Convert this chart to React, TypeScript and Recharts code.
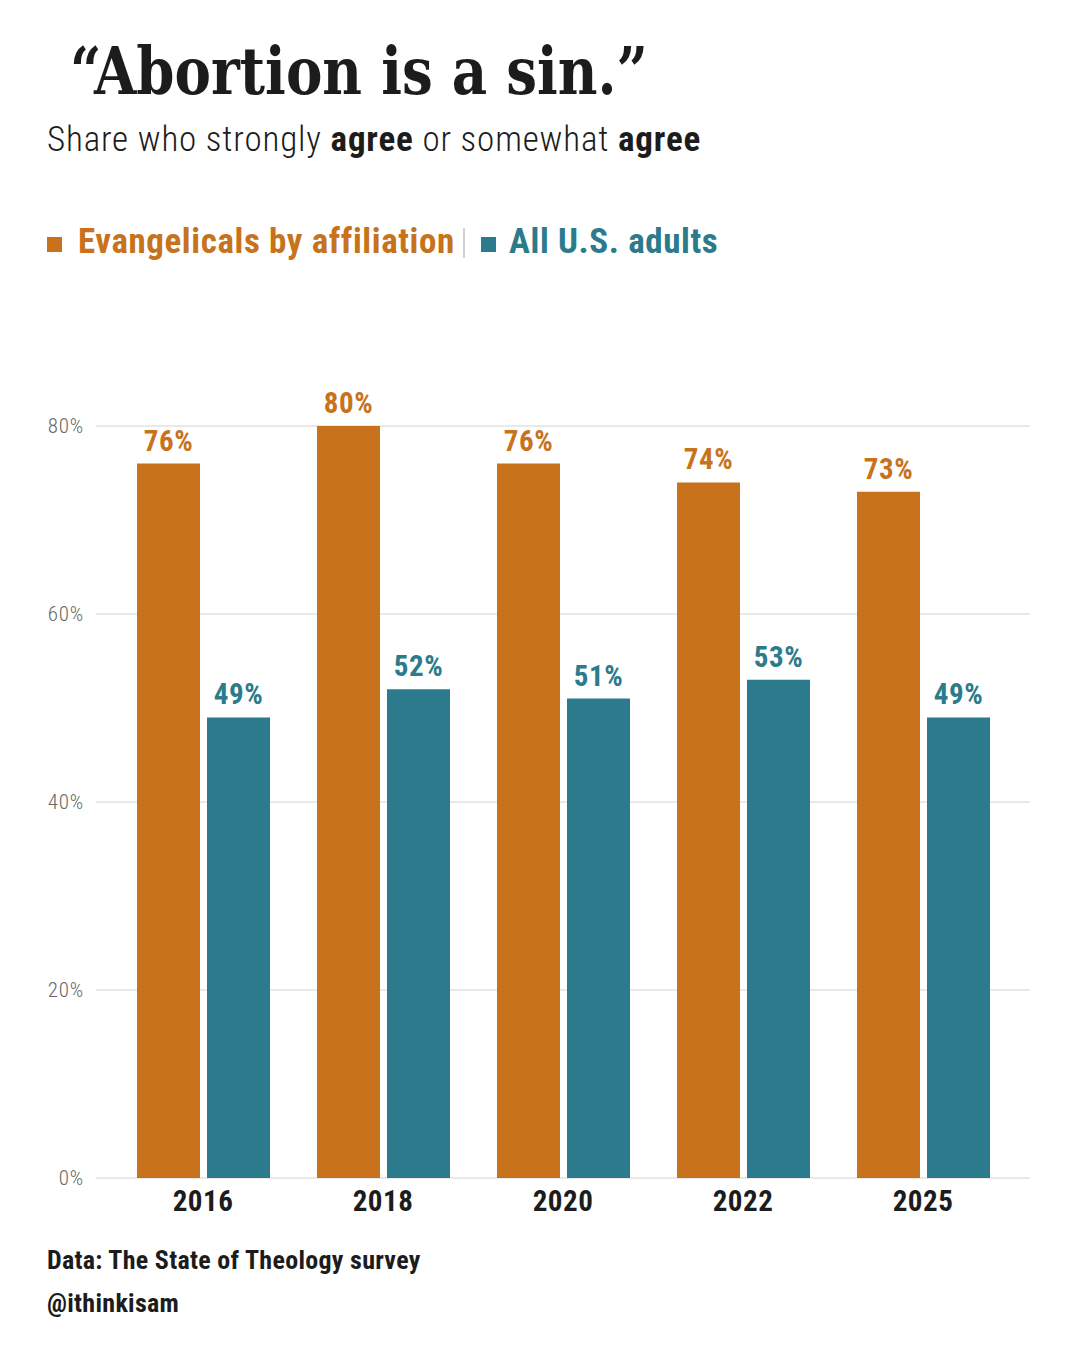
import React from 'react';
import { BarChart, Bar, XAxis, YAxis, CartesianGrid, LabelList } from 'recharts';

// chart values
const years = ['2016', '2018', '2020', '2022', '2025'];
const evangelicals = [76, 80, 76, 74, 73];
const allAdults = [49, 52, 51, 53, 49];
const yTicks = [0, 20, 40, 60, 80];

const ORANGE = '#C8731B';
const TEAL = '#2C7B8C';
const FONT = "Roboto, 'Noto Sans', sans-serif";
const COND = { fontStretch: 'condensed' } as React.CSSProperties;

const seriesNames = ['Evangelicals by affiliation', 'All U.S. adults'];

const data = years.map((year, i) => ({
  year,
  evangelicals: evangelicals[i],
  adults: allAdults[i],
}));

const pct = (v: any) => `${v}%`;

const Header: React.FC = () => (
  <svg width={1080} height={300} style={{ position: 'absolute', left: 0, top: 0 }}>
    <text
      x={70}
      y={94}
      fontFamily="'DejaVu Serif', serif"
      fontWeight={700}
      fontSize={66}
      fill="#1c1c1c"
      textLength={578}
      lengthAdjust="spacingAndGlyphs"
    >
      “Abortion is a sin.”
    </text>
    <text x={47} y={151} fontFamily={FONT} fontWeight={300} fontSize={35} fill="#1c1c1c" letterSpacing={0.85} style={COND}>
      Share who strongly <tspan fontWeight={700}>agree</tspan> or somewhat{' '}
      <tspan fontWeight={700}>agree</tspan>
    </text>
    {/* legend */}
    <rect x={47} y={237} width={15} height={15} fill={ORANGE} />
    <text x={78} y={253} fontFamily={FONT} fontWeight={700} fontSize={35} fill={ORANGE} letterSpacing={0.6} style={COND}>
      {seriesNames[0]}
    </text>
    <line x1={464} x2={464} y1={228} y2={258} stroke="#d0d0d0" strokeWidth={2} />
    <rect x={481} y={237} width={15} height={15} fill={TEAL} />
    <text x={509} y={253} fontFamily={FONT} fontWeight={700} fontSize={35} fill={TEAL} letterSpacing={0.6} style={COND}>
      {seriesNames[1]}
    </text>
  </svg>
);

const Footer: React.FC = () => (
  <svg width={1080} height={120} style={{ position: 'absolute', left: 0, top: 1230 }}>
    <text x={47} y={39} fontFamily={FONT} fontWeight={700} fontSize={26} fill="#1c1c1c" letterSpacing={0.3} style={COND}>
      Data: The State of Theology survey
    </text>
    <text x={47} y={82} fontFamily={FONT} fontWeight={700} fontSize={26} fill="#1c1c1c" letterSpacing={0.3} style={COND}>
      @ithinkisam
    </text>
  </svg>
);

const App: React.FC = () => (
  <div style={{ position: 'absolute', left: 0, top: 0, width: 1080, height: 1350, background: '#fff' }}>
    <div style={{ position: 'absolute', left: 0, top: 0 }}>
      <BarChart
        width={1080}
        height={1350}
        data={data}
        margin={{ top: 426, right: 50, bottom: 112, left: 0 }}
        barGap={7}
        barSize={63}
      >
        <CartesianGrid vertical={false} stroke="#d2d2d2" />
        <XAxis
          dataKey="year"
          axisLine={false}
          tickLine={false}
          padding={{ left: 17, right: 17 }}
          tickMargin={6}
          height={60}
          tick={{ fontSize: 29, fontWeight: 700, fill: '#1c1c1c', fontFamily: FONT, letterSpacing: 0.5, style: COND }}
        />
        <YAxis
          width={96}
          domain={[0, 80]}
          ticks={yTicks}
          tickFormatter={pct}
          axisLine={false}
          tickLine={false}
          tickMargin={6}
          tick={{ fontSize: 21, fill: '#666666', fontFamily: FONT, fontWeight: 300, letterSpacing: 0.8, style: COND }}
        />
        <Bar dataKey="evangelicals" fill={ORANGE} isAnimationActive={false}>
          <LabelList
            dataKey="evangelicals"
            position="top"
            offset={13}
            formatter={pct}
            fill={ORANGE}
            fontSize={29}
            fontWeight={700}
            fontFamily={FONT}
            letterSpacing={0.6}
            style={COND}
          />
        </Bar>
        <Bar dataKey="adults" fill={TEAL} isAnimationActive={false}>
          <LabelList
            dataKey="adults"
            position="top"
            offset={13}
            formatter={pct}
            fill={TEAL}
            fontSize={29}
            fontWeight={700}
            fontFamily={FONT}
            letterSpacing={0.6}
            style={COND}
          />
        </Bar>
      </BarChart>
    </div>
    <Header />
    <Footer />
  </div>
);

export default App;
